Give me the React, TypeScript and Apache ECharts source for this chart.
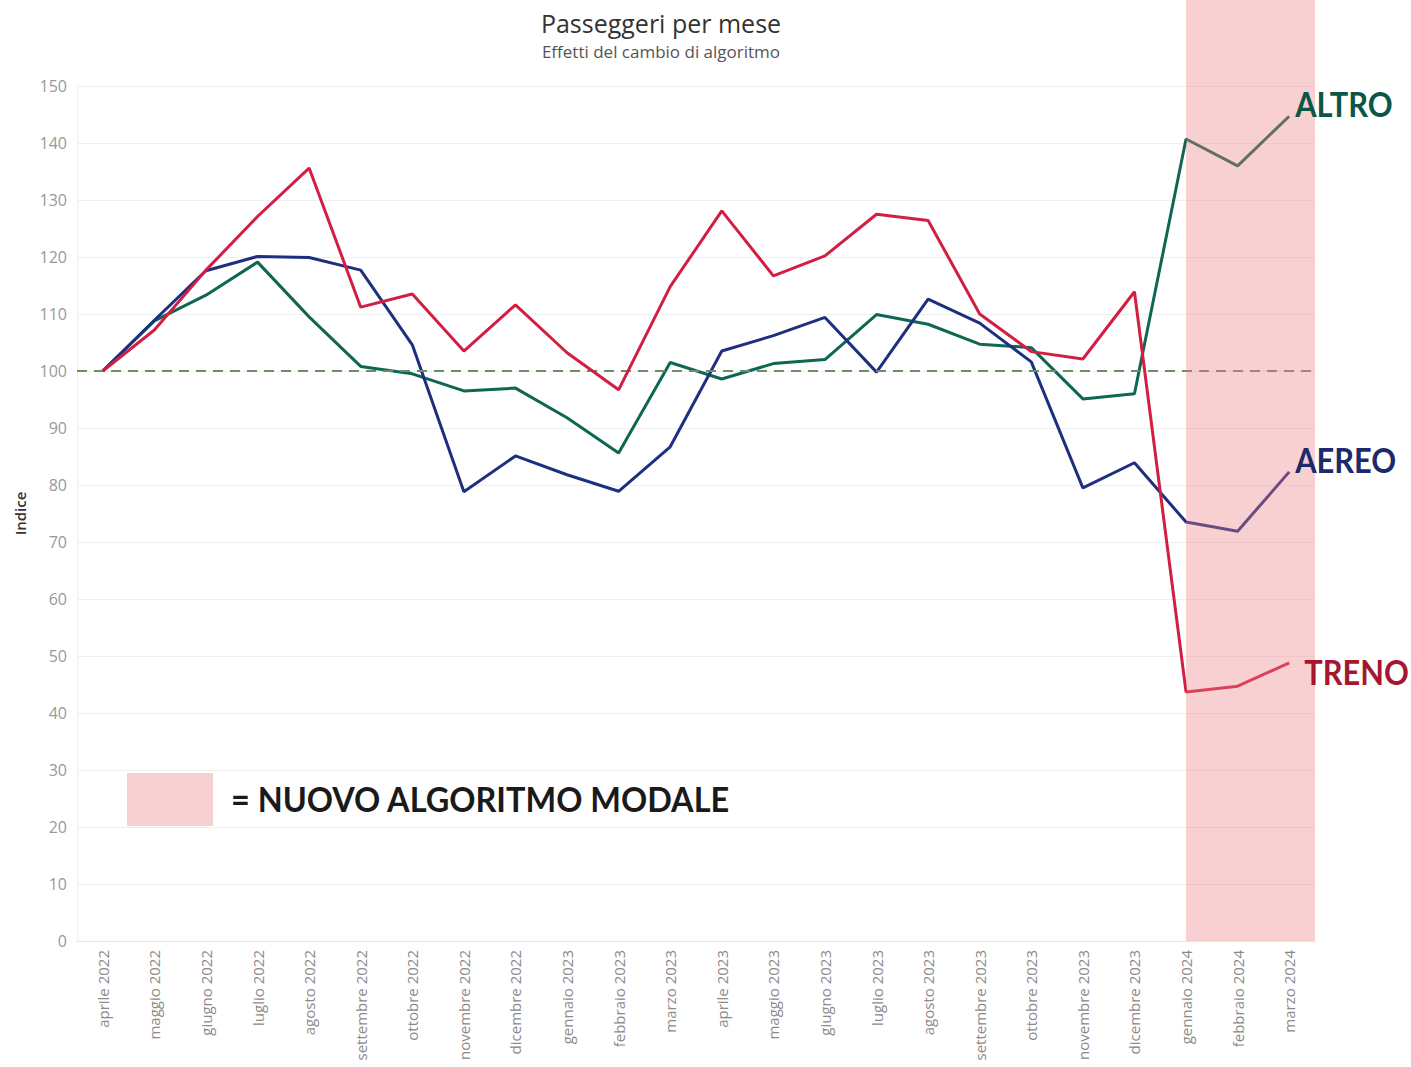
import React, { useEffect, useRef } from "react";
import * as echarts from "echarts";

const months = [
  "aprile 2022", "maggio 2022", "giugno 2022", "luglio 2022", "agosto 2022",
  "settembre 2022", "ottobre 2022", "novembre 2022", "dicembre 2022",
  "gennaio 2023", "febbraio 2023", "marzo 2023", "aprile 2023", "maggio 2023",
  "giugno 2023", "luglio 2023", "agosto 2023", "settembre 2023", "ottobre 2023",
  "novembre 2023", "dicembre 2023", "gennaio 2024", "febbraio 2024", "marzo 2024",
];

const treno = [100, 107.2, 117.7, 127.1, 135.6, 111.2, 113.5, 103.5, 111.6, 103.2, 96.7, 114.8,
  128.1, 116.7, 120.2, 127.5, 126.4, 110, 103.4, 102.1, 113.9, 43.7, 44.7, 48.8];
const aereo = [100, 108.9, 117.6, 120.1, 119.9, 117.7, 104.6, 78.8, 85.1, 81.8, 78.9, 86.7,
  103.5, 106.2, 109.4, 99.8, 112.6, 108.4, 101.6, 79.5, 83.9, 73.5, 71.9, 82.3];
const altro = [100, 108.8, 113.3, 119.1, 109.5, 100.8, 99.5, 96.5, 97, 91.8, 85.6, 101.5,
  98.6, 101.3, 102, 109.9, 108.2, 104.7, 104.1, 95.1, 96, 140.7, 136, 144.7];

const baseline = 100;
const newAlgoStart = "gennaio 2024";
const yMin = 0;
const yMax = 150;
const yStep = 10;

const seriesNames = ["ALTRO", "AEREO", "TRENO"];
const seriesData = [altro, aereo, treno];
const lineColors = ["#0f6652", "#1f2f80", "#d21e42"];
const labelColors = ["#0b5646", "#1c2a6b", "#a3172f"];
const labelOffsets = [[6, -13], [6, -13], [15, 8]];

export default function App() {
  const ref = useRef<HTMLDivElement>(null);
  useEffect(() => {
    document.body.style.margin = "0";
    const chart = echarts.init(ref.current!, null, { renderer: "svg" });
    chart.setOption({
      animation: false,
      backgroundColor: "#ffffff",
      title: [
        {
          text: "Passeggeri per mese",
          left: 656,
          textAlign: "center",
          top: 5,
          textStyle: { fontFamily: "Open Sans", fontSize: 25, fontWeight: 500, color: "#333" },
        },
        {
          text: "Effetti del cambio di algoritmo",
          left: 656,
          textAlign: "center",
          top: 38,
          textStyle: { fontFamily: "Open Sans", fontSize: 17, fontWeight: 400, color: "#555" },
        },
      ],
      grid: { left: 77, right: 96, top: 86, bottom: 126, containLabel: false },
      xAxis: {
        type: "category",
        data: months,
        boundaryGap: true,
        axisLine: { show: true, lineStyle: { color: "#e6e6e6" } },
        axisTick: { show: false },
        axisLabel: {
          rotate: 90,
          interval: 0,
          margin: 9,
          fontFamily: "Open Sans",
          fontSize: 15,
          color: "#8a8a8a",
        },
        splitLine: { show: false },
      },
      yAxis: {
        type: "value",
        min: yMin,
        max: yMax,
        interval: yStep,
        name: "Indice",
        nameLocation: "middle",
        nameRotate: 90,
        nameGap: 50,
        nameTextStyle: { fontFamily: "Open Sans", fontSize: 15, color: "#333", fontWeight: 600 },
        axisLine: { show: true, lineStyle: { color: "#f0f0f0" } },
        axisTick: { show: false },
        axisLabel: { margin: 10, fontFamily: "Open Sans", fontSize: 16, color: "#999" },
        splitLine: { show: true, lineStyle: { color: "#efefef", width: 1 } },
      },
      series: seriesNames.map((name, i) => ({
        name,
        type: "line",
        data: seriesData[i],
        showSymbol: false,
        symbol: "none",
        z: 3 + i,
        lineStyle: { color: lineColors[i], width: 3 },
        itemStyle: { color: lineColors[i] },
        markLine: i === 0
          ? {
              silent: true,
              symbol: "none",
              label: { show: false },
              lineStyle: { color: "#6e8c66", type: [10, 7], width: 2 },
              data: [{ yAxis: baseline }],
            }
          : undefined,
      })),
    });

    const xStart = chart.convertToPixel({ xAxisIndex: 0 }, newAlgoStart) as number;
    const xLast = chart.convertToPixel({ xAxisIndex: 0 }, months[months.length - 1]) as number;
    const xPrev = chart.convertToPixel({ xAxisIndex: 0 }, months[months.length - 2]) as number;
    const xRight = xLast + (xLast - xPrev) / 2;
    const yBottom = chart.convertToPixel({ yAxisIndex: 0 }, yMin) as number;

    const labels = seriesNames.map((name, i) => {
      const v = seriesData[i][seriesData[i].length - 1];
      const py = chart.convertToPixel({ yAxisIndex: 0 }, v) as number;
      return {
        type: "text",
        z: 20,
        x: xLast + labelOffsets[i][0],
        y: py + labelOffsets[i][1],
        scaleX: 0.88,
        style: {
          text: name,
          fill: labelColors[i],
          font: "bold 35px Lato",
          textAlign: "left",
          textVerticalAlign: "middle",
        },
      };
    });

    chart.setOption({
      graphic: [
        {
          type: "rect",
          z: 10,
          silent: true,
          shape: { x: xStart, y: 0, width: xRight - xStart, height: yBottom },
          style: { fill: "rgba(240,128,134,0.37)" },
        },
        {
          type: "rect",
          z: 10,
          silent: true,
          shape: { x: 127, y: 773, width: 86, height: 53 },
          style: { fill: "rgba(240,128,134,0.37)" },
        },
        {
          type: "text",
          z: 20,
          x: 231,
          y: 799,
          scaleX: 0.955,
          style: {
            text: "= NUOVO ALGORITMO MODALE",
            fill: "#1a1a1a",
            font: "bold 34px Lato",
            textAlign: "left",
            textVerticalAlign: "middle",
          },
        },
        ...labels,
      ],
    });
    return () => chart.dispose();
  }, []);
  return <div ref={ref} style={{ width: 1411, height: 1067 }} />;
}
